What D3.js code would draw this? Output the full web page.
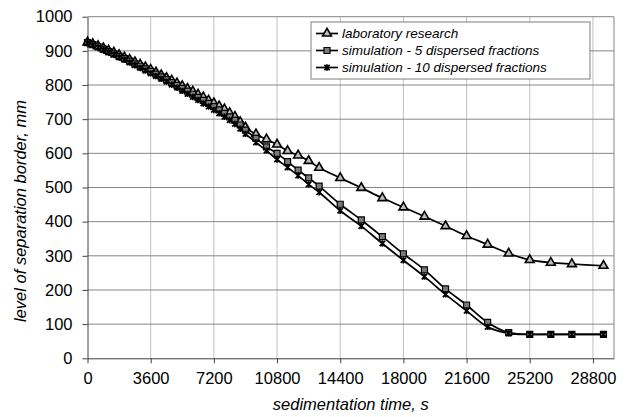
<!DOCTYPE html>
<html>
<head>
<meta charset="utf-8">
<script src="https://cdn.jsdelivr.net/npm/d3@7/dist/d3.min.js"></script>
<style>
  body { margin: 0; background: #fff; }
  text { font-family: "Liberation Sans", Arial, sans-serif; }
</style>
</head>
<body>
<div id="chart"></div>
<script>
//////////
// DATA //
//////////

// sedimentation time, s
var times = [0, 300, 600, 900, 1200, 1500, 1800, 2100, 2400, 2700, 3000, 3300, 3600, 3900, 4200, 4500,
  4800, 5100, 5400, 5700, 6000, 6300, 6600, 6900, 7200, 7500, 7800, 8100, 8400, 8700, 9000,
  9600, 10200, 10800, 11400, 12000, 12600, 13200,
  14400, 15600, 16800, 18000, 19200, 20400, 21600, 22800, 24000, 25200, 26400, 27600, 29400];

// level of separation border, mm
var labResearch = [925, 920, 914, 908, 901, 895, 888, 881, 874, 867, 860, 852, 845, 837, 829, 821,
  813, 805, 797, 789, 781, 772, 764, 755, 747, 738, 729, 718, 707, 692, 676,
  656, 641, 626, 607, 594, 578, 558,
  528, 499, 469, 442, 415, 387, 358, 333, 307, 288, 280, 276, 271];

var sim5 = [924, 918, 912, 905, 898, 891, 884, 877, 870, 862, 855, 847, 840, 832, 824, 816,
  807, 799, 790, 782, 773, 764, 755, 746, 737, 727, 717, 707, 697, 683, 668,
  644, 619, 600, 576, 551, 528, 504,
  451, 405, 356, 306, 259, 203, 156, 105, 75, 70, 70, 70, 70];

var sim10 = [923, 917, 910, 903, 896, 889, 881, 874, 866, 858, 850, 842, 834, 826, 818, 810,
  801, 792, 783, 774, 765, 756, 746, 737, 727, 717, 707, 697, 686, 672, 657,
  632, 608, 582, 559, 535, 509, 486,
  432, 387, 336, 287, 239, 187, 139, 92, 73, 70, 70, 70, 70];

var seriesNames = ["laboratory research", "simulation - 5 dispersed fractions", "simulation - 10 dispersed fractions"];

var xTicks = [0, 3600, 7200, 10800, 14400, 18000, 21600, 25200, 28800];
var yTicks = [0, 100, 200, 300, 400, 500, 600, 700, 800, 900, 1000];

//////////////////////////////
// SVG AND GRAPH DIMENSIONS //
//////////////////////////////

var svgWidth = 629, svgHeight = 417;
var margin = { top: 16.7, right: 15, bottom: 58.7, left: 87.5 };
var width = svgWidth - margin.left - margin.right,
    height = svgHeight - margin.top - margin.bottom;

var svg = d3.select("#chart").append("svg")
  .attr("width", svgWidth)
  .attr("height", svgHeight);

var g = svg.append("g")
  .attr("transform", "translate(" + margin.left + "," + margin.top + ")");

var x = d3.scaleLinear().domain([0, 30000]).range([0, width]);
var y = d3.scaleLinear().domain([0, 1000]).range([height, 0]);

// grid
g.selectAll(".vgrid")
  .data(xTicks.slice(1))
  .enter().append("line")
  .attr("class", "vgrid")
  .attr("x1", function (d) { return x(d); })
  .attr("x2", function (d) { return x(d); })
  .attr("y1", 0).attr("y2", height)
  .attr("stroke", "#c0c0c0").attr("stroke-width", 1);

g.selectAll(".hgrid")
  .data(yTicks.slice(1))
  .enter().append("line")
  .attr("class", "hgrid")
  .attr("x1", 0).attr("x2", width)
  .attr("y1", function (d) { return y(d); })
  .attr("y2", function (d) { return y(d); })
  .attr("stroke", "#868686").attr("stroke-width", 1);

// right border of plot area
g.append("line")
  .attr("x1", width).attr("x2", width)
  .attr("y1", 0).attr("y2", height)
  .attr("stroke", "#868686");

//////////
// AXES //
//////////

var xAxis = d3.axisBottom(x).tickValues(xTicks).tickFormat(d3.format("d"))
  .tickSize(5).tickPadding(9).tickSizeOuter(0);
var yAxis = d3.axisLeft(y).tickValues(yTicks).tickFormat(d3.format("d"))
  .tickSize(5).tickPadding(10).tickSizeOuter(0);

function styleAxis(a) {
  a.select(".domain").attr("stroke", "#404040");
  a.selectAll(".tick line").attr("stroke", "#404040");
  a.selectAll("text").attr("fill", "#000").style("font-size", "16.5px")
    .style("font-family", "'Liberation Sans', Arial, sans-serif");
}

g.append("g")
  .attr("transform", "translate(0," + height + ")")
  .call(xAxis)
  .call(styleAxis);

g.append("g")
  .call(yAxis)
  .call(styleAxis);

svg.append("text")
  .attr("x", margin.left + width / 2)
  .attr("y", 410)
  .attr("text-anchor", "middle")
  .style("font-style", "italic")
  .style("font-size", "16.5px")
  .text("sedimentation time, s");

svg.append("text")
  .attr("transform", "translate(26,211) rotate(-90)")
  .attr("text-anchor", "middle")
  .style("font-style", "italic")
  .style("font-size", "16.5px")
  .text("level of separation border, mm");

////////////
// SERIES //
////////////

var triangle = d3.symbol().type(d3.symbolTriangle).size(34);
var square = d3.symbol().type(d3.symbolSquare).size(36);
function starPath(r) {
  return "M" + (-r) + "," + (-r) + "L" + r + "," + r +
         "M" + (-r) + "," + r + "L" + r + "," + (-r) +
         "M0," + (-r - 0.5) + "L0," + (r + 0.5);
}

var series = [
  { name: seriesNames[0], values: labResearch, marker: triangle(), fill: "#bdbdbd", sw: 1.6 },
  { name: seriesNames[1], values: sim5, marker: square(), fill: "#7a7a7a", sw: 1.2 },
  { name: seriesNames[2], values: sim10, marker: starPath(2.7), fill: "none", sw: 1.7 }
];

var line = d3.line()
  .x(function (d) { return x(d[0]); })
  .y(function (d) { return y(d[1]); })
  .curve(d3.curveCatmullRom.alpha(0.5));

series.forEach(function (s) {
  var pts = times.map(function (t, i) { return [t, s.values[i]]; });
  g.append("path")
    .datum(pts)
    .attr("fill", "none")
    .attr("stroke", "#000")
    .attr("stroke-width", 1.7)
    .attr("d", line);
});

series.forEach(function (s) {
  var pts = times.map(function (t, i) { return [t, s.values[i]]; });
  g.selectAll(null)
    .data(pts)
    .enter().append("path")
    .attr("transform", function (d) { return "translate(" + x(d[0]) + "," + y(d[1]) + ")"; })
    .attr("d", s.marker)
    .attr("fill", s.fill)
    .attr("stroke", "#000")
    .attr("stroke-width", s.sw);
});

////////////
// LEGEND //
////////////

var legend = svg.append("g").attr("transform", "translate(311,22)");
legend.append("rect")
  .attr("x", 0).attr("y", 0)
  .attr("width", 279).attr("height", 57)
  .attr("fill", "#fff")
  .attr("stroke", "#7f7f7f");

series.forEach(function (s, i) {
  var row = legend.append("g").attr("transform", "translate(0," + (11.5 + i * 17) + ")");
  row.append("line")
    .attr("x1", 5).attr("x2", 27)
    .attr("stroke", "#000").attr("stroke-width", 1.7);
  row.append("path")
    .attr("transform", "translate(16,0)")
    .attr("d", s.marker)
    .attr("fill", s.fill)
    .attr("stroke", "#000")
    .attr("stroke-width", s.sw);
  row.append("text")
    .attr("x", 31)
    .attr("y", 4.5)
    .style("font-style", "italic")
    .style("font-size", "13.5px")
    .text(s.name);
});
</script>
</body>
</html>
